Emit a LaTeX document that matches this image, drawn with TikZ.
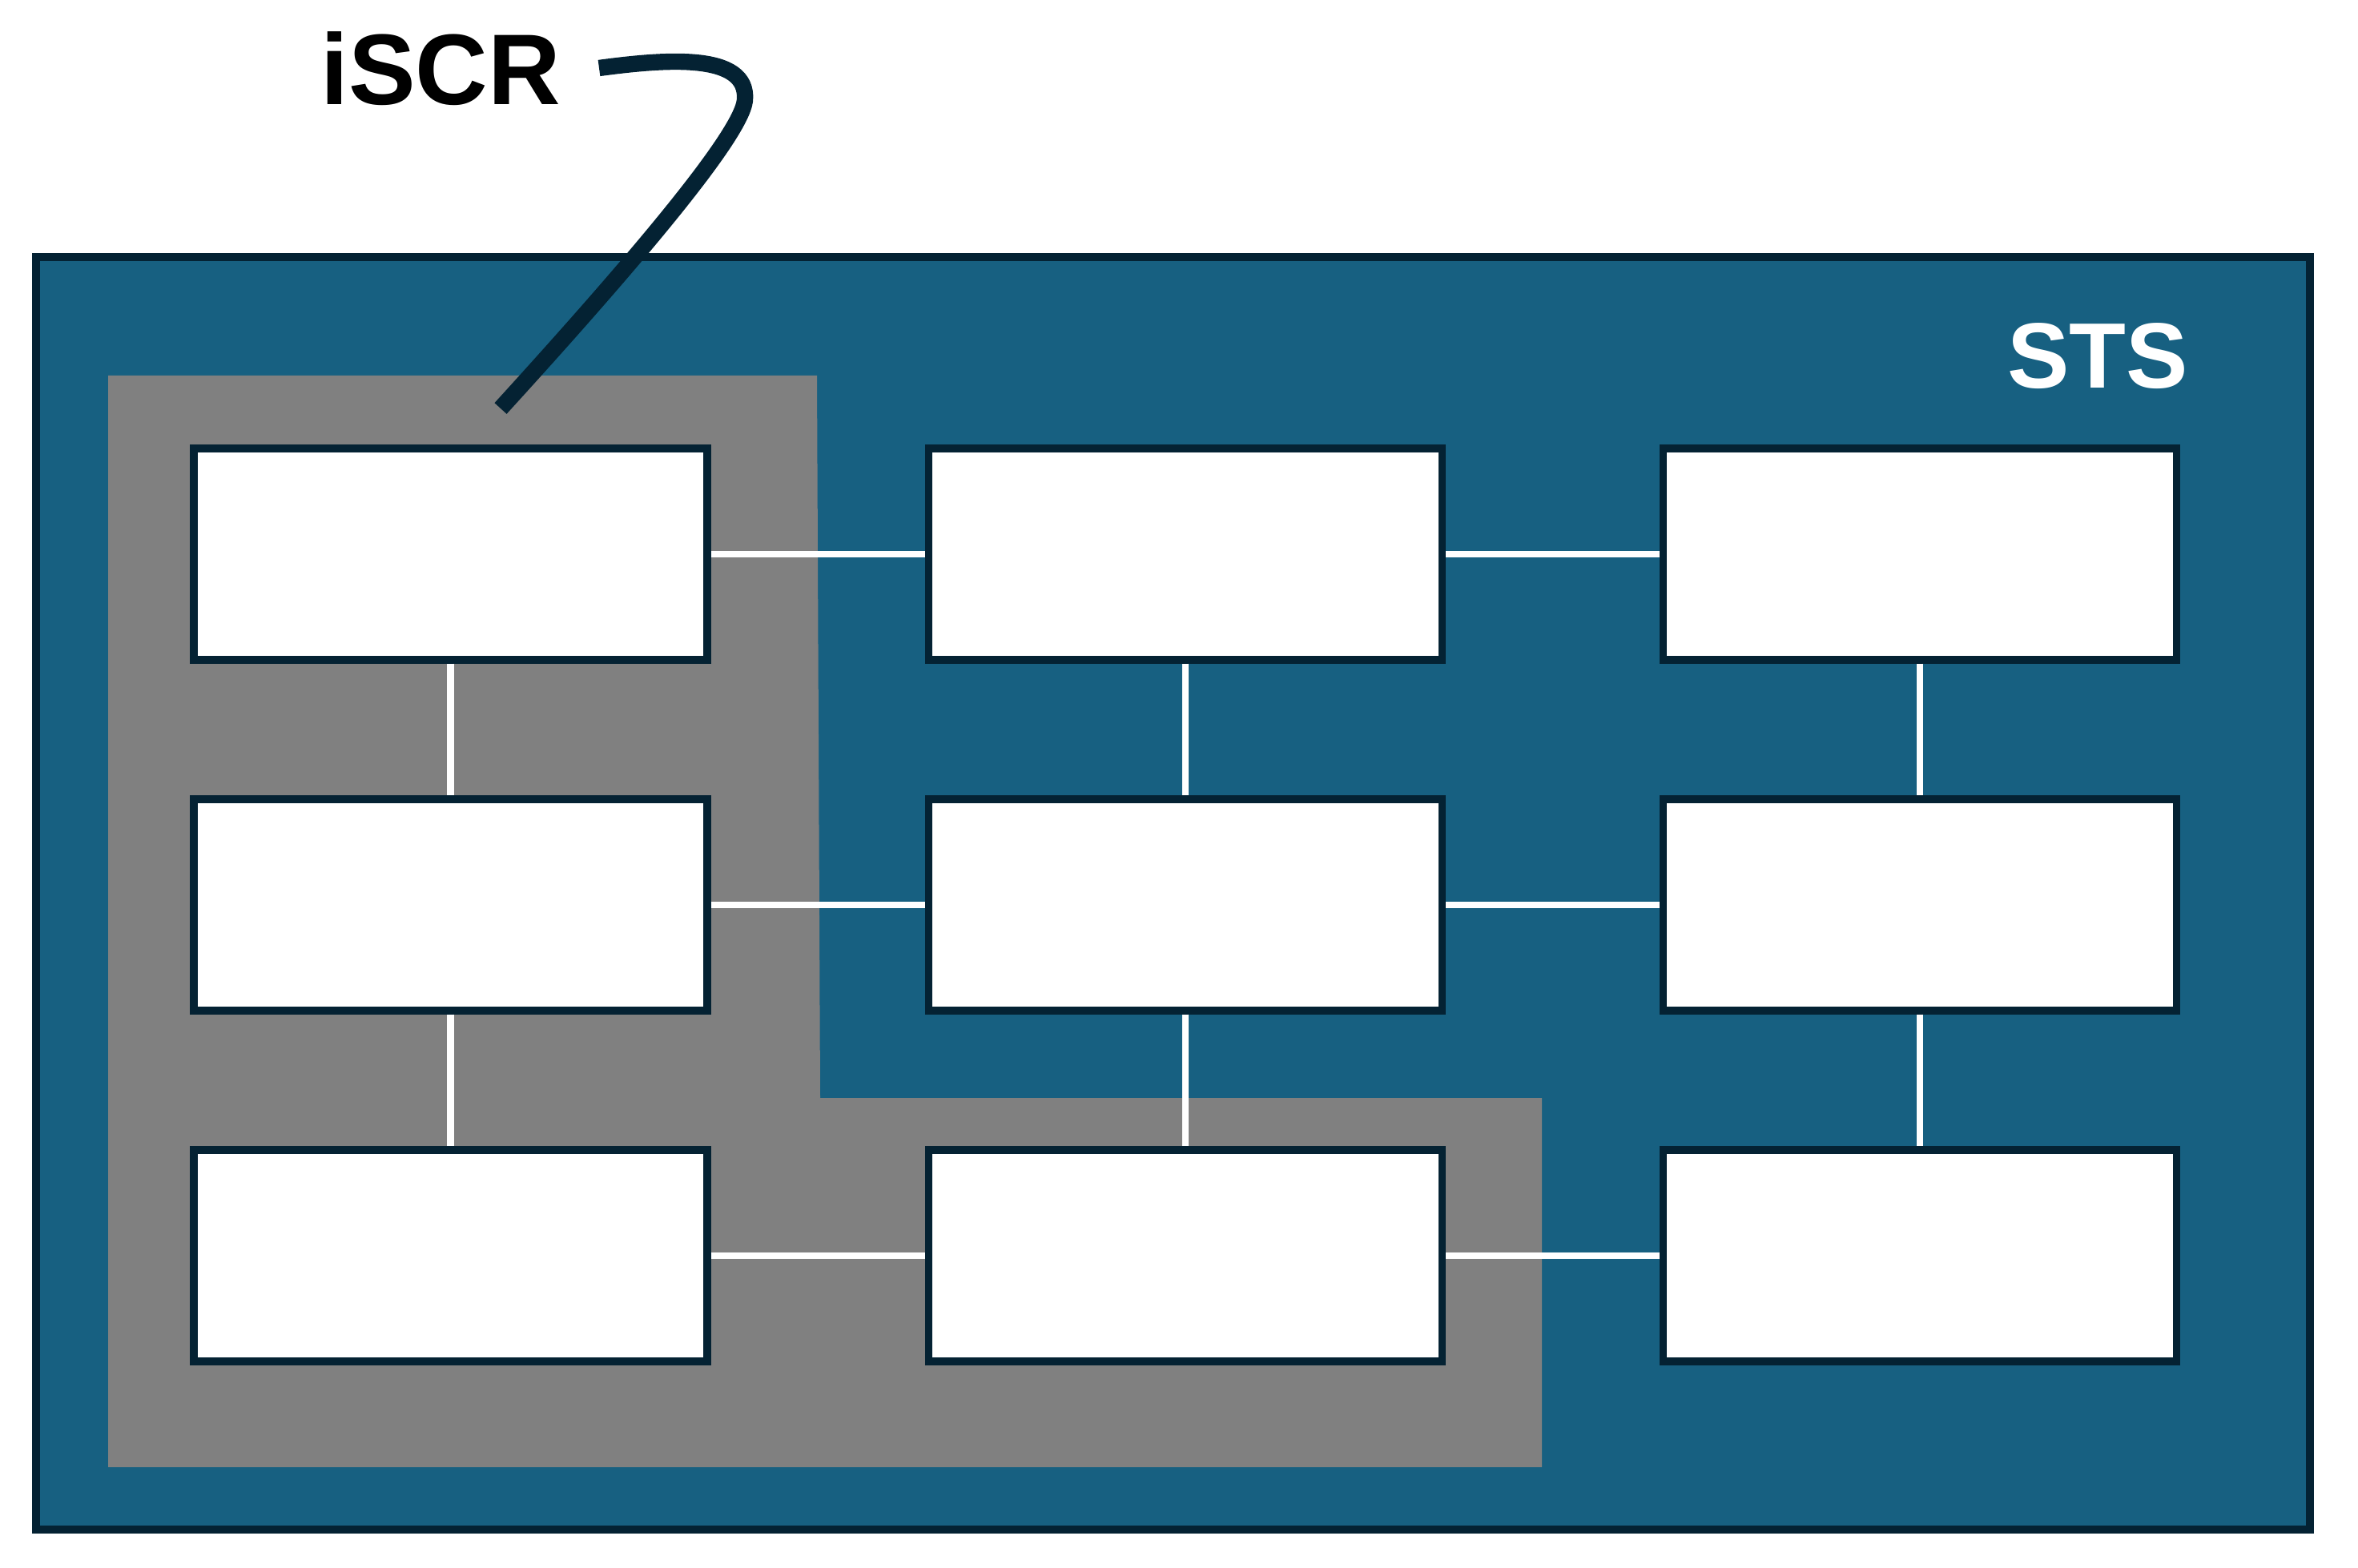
\documentclass[tikz,border=0pt]{standalone}
\usepackage{fontspec}
\setmainfont{Liberation Sans}[BoldFont={Liberation Sans Bold}]
\definecolor{stsblue}{RGB}{23,96,129}
\definecolor{navy}{RGB}{4,34,51}
\definecolor{iscrgray}{RGB}{128,128,128}

\begin{document}
\begin{tikzpicture}[
  x=1cm,y=-1cm,
  unit/.style={draw=navy, fill=white, line width=2.7pt, minimum width=6.41cm, minimum height=2.64cm, inner sep=0pt},
  link/.style={white, line width=2.3pt},
  leader/.style={navy, line width=5.8pt, line join=round},
  tag/.style={inner sep=0pt}
]
\useasboundingbox (0,0) rectangle (29.44,19.58);
\draw[navy, line width=2.8pt, fill=stsblue] (0.45,3.21) rectangle (28.84,19.10);
\fill[iscrgray] (1.35,4.69) -- (10.20,4.69) -- (10.24,13.71) -- (19.25,13.71) -- (19.25,18.32) -- (1.35,18.32) -- cycle;
\node[tag, text=white, font=\bfseries\fontsize{33}{40}\selectfont] (sts) at (26.19,4.45) {STS};
\node[tag, text=black, font=\bfseries\fontsize{35.7}{42}\selectfont] (iscr) at (5.50,0.86) {iSCR};
\node[unit] (u11) at (5.625,6.92) {};
\node[unit] (u12) at (14.80,6.92) {};
\node[unit] (u13) at (23.97,6.92) {};
\node[unit] (u21) at (5.625,11.30) {};
\node[unit] (u22) at (14.80,11.30) {};
\node[unit] (u23) at (23.97,11.30) {};
\node[unit] (u31) at (5.625,15.68) {};
\node[unit] (u32) at (14.80,15.68) {};
\node[unit] (u33) at (23.97,15.68) {};
\draw[link] (u11) -- (u12); \draw[link] (u12) -- (u13);
\draw[link] (u21) -- (u22); \draw[link] (u22) -- (u23);
\draw[link] (u31) -- (u32); \draw[link] (u32) -- (u33);
\draw[link] (u11) -- (u21); \draw[link] (u21) -- (u31);
\draw[link] (u12) -- (u22); \draw[link] (u22) -- (u32);
\draw[link] (u13) -- (u23); \draw[link] (u23) -- (u33);
\coordinate (hook) at (7.48,0.85);
\coordinate (tip) at (6.25,5.10);
\draw[leader] (hook) .. controls (8.30,0.74) and (9.35,0.65) .. (9.30,1.25) .. controls (9.26,1.70) and (7.80,3.40) .. (tip);
\end{tikzpicture}
\end{document}
